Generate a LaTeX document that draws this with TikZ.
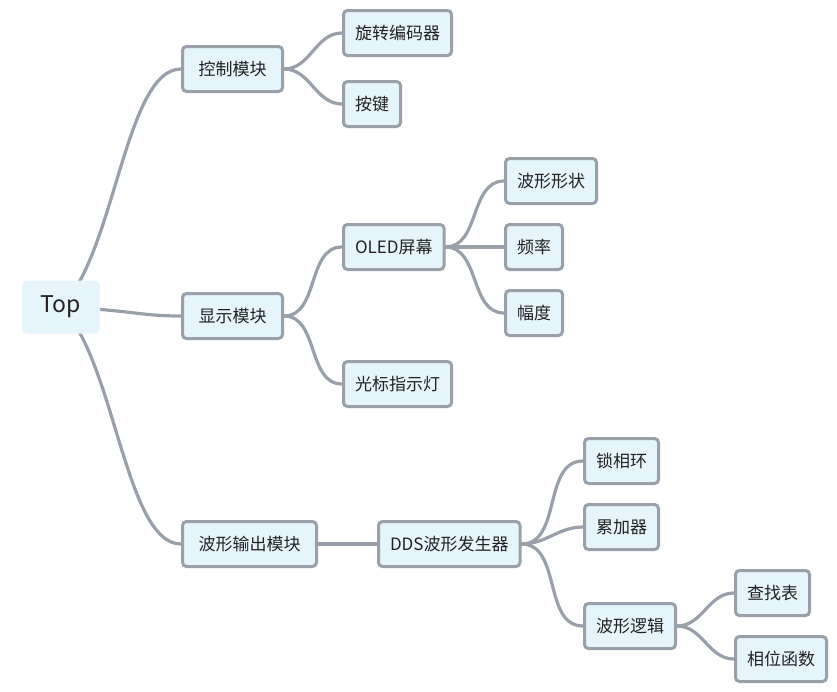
\documentclass[tikz,border=0pt]{standalone}
\usepackage{fontspec}
\newfontfamily\cjk{Noto Sans CJK SC}
\usetikzlibrary{backgrounds}

\definecolor{nodefill}{HTML}{E6F4FC}
\definecolor{linegray}{HTML}{99A0A9}
\definecolor{textdark}{HTML}{222222}

\tikzset{
	topic/.style={draw=linegray, line width=3pt, fill=nodefill, rounded corners=4pt,
		text=textdark, font=\cjk\fontsize{17}{20}\selectfont,
		inner xsep=16pt, minimum height=45pt, anchor=west},
	leaf/.style={topic, inner xsep=11.5pt},
	root/.style={fill=nodefill, rounded corners=5pt, text=textdark,
		font=\cjk\fontsize{23}{27}\selectfont, minimum width=78pt, minimum height=53pt},
	branch/.style={draw=linegray, line width=3.2pt, line cap=round},
}

\begin{document}
\begin{tikzpicture}[x=1pt, y=-1pt]
	\useasboundingbox (0,0) rectangle (837,691);
	
	% 中心主题
	\node[root] (top) at (61,307) {Top};
	
	% 一级模块
	\node[topic] (ctrl) at (181,69)  {控制模块};
	\node[topic] (disp) at (181,316) {显示模块};
	\node[topic] (wout) at (181,544) {波形输出模块};
	
	% 控制模块
	\node[leaf] (enc) at (342,33)  {旋转编码器};
	\node[leaf] (key) at (342,104) {按键};
	
	% 显示模块
	\node[leaf] (oled)   at (342,247) {OLED屏幕};
	\node[leaf] (cursor) at (342,384) {光标指示灯};
	\node[leaf] (shape)  at (504,181) {波形形状};
	\node[leaf] (freq)   at (504,247) {频率};
	\node[leaf] (amp)    at (504,313) {幅度};
	
	% 波形输出模块
	\node[leaf] (dds)   at (377,544) {DDS波形发生器};
	\node[leaf] (pll)   at (583,461) {锁相环};
	\node[leaf] (acc)   at (583,527) {累加器};
	\node[leaf] (wlog)  at (583,626) {波形逻辑};
	\node[leaf] (lut)   at (734,593) {查找表};
	\node[leaf] (phase) at (734,659) {相位函数};
	
	% 连线
	\begin{scope}[on background layer]
		\draw[branch] (top.center) .. controls (115,255) and (125,69) .. (ctrl.west);
		\draw[branch] (top.center) .. controls (130,310) and (140,316) .. (disp.west);
		\draw[branch] (top.center) .. controls (115,359) and (125,544) .. (wout.west);
		
		\draw[branch] (ctrl.east) to[out=0, in=180] (enc.west);
		\draw[branch] (ctrl.east) to[out=0, in=180] (key.west);
		
		\draw[branch] (disp.east) to[out=0, in=180] (oled.west);
		\draw[branch] (disp.east) to[out=0, in=180] (cursor.west);
		\draw[branch] (oled.east) to[out=0, in=180] (shape.west);
		\draw[branch] (oled.east) -- (freq.west);
		\draw[branch] (oled.east) to[out=0, in=180] (amp.west);
		
		\draw[branch] (wout.east) -- (dds.west);
		\draw[branch] (dds.east) to[out=0, in=180] (pll.west);
		\draw[branch] (dds.east) to[out=0, in=180] (acc.west);
		\draw[branch] (dds.east) to[out=0, in=180] (wlog.west);
		\draw[branch] (wlog.east) to[out=0, in=180] (lut.west);
		\draw[branch] (wlog.east) to[out=0, in=180] (phase.west);
	\end{scope}
\end{tikzpicture}
\end{document}
